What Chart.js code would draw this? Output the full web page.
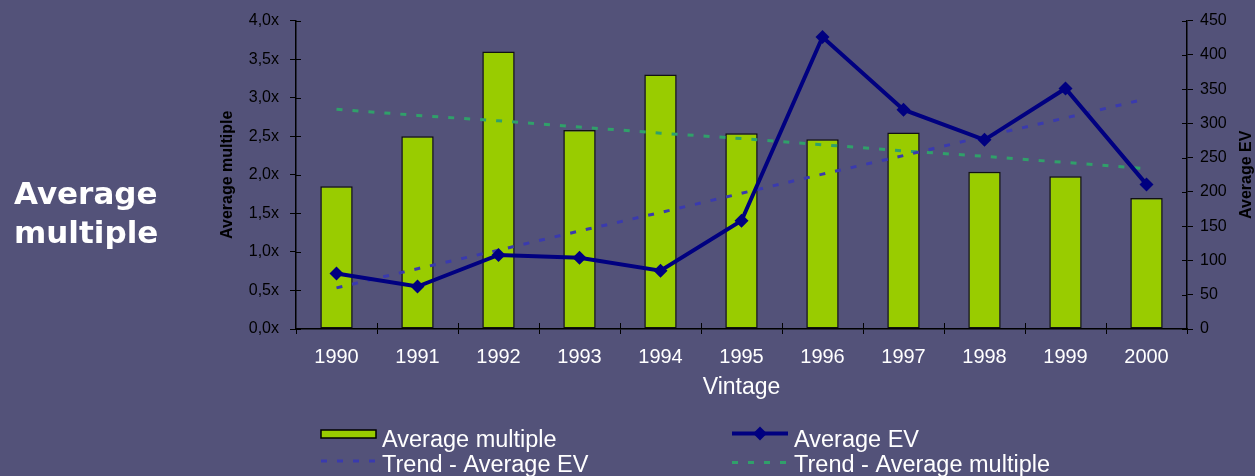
<!DOCTYPE html>
<html>
<head>
<meta charset="utf-8">
<script src="https://cdn.jsdelivr.net/npm/chart.js@4.4.1/dist/chart.umd.min.js"></script>
<style>
  html, body { margin: 0; padding: 0; background: #535279; }
  #wrap { position: relative; width: 1255px; height: 476px; overflow: hidden; }
  #chart { position: absolute; left: 0; top: 0; }
  #side {
    position: absolute; left: 14px; top: 174px;
    font: bold 31px 'DejaVu Sans', Verdana, sans-serif;
    line-height: 39px; color: #fff;
  }
</style>
</head>
<body>
<div id="wrap">
  <canvas id="chart" width="1255" height="476"></canvas>
  <div id="side">Average<br>multiple</div>
</div>
<script>
// values
const vintages = ['1990', '1991', '1992', '1993', '1994', '1995', '1996', '1997', '1998', '1999', '2000'];
const averageMultiple = [1.85, 2.50, 3.60, 2.58, 3.30, 2.54, 2.46, 2.55, 2.04, 1.98, 1.70];
const averageEV = [81, 62, 108, 104, 85, 158, 426, 320, 276, 351, 211];
const trendEV = [60, 88, 115, 143, 170, 198, 226, 253, 281, 308, 336];
const trendMultiple = [2.85, 2.77, 2.70, 2.62, 2.54, 2.47, 2.39, 2.31, 2.24, 2.16, 2.08];

Chart.defaults.font.family = "'Liberation Sans', Arial, sans-serif";

// legend slots: [swatch left, swatch right, swatch y, text x, text baseline]
const legendSlots = [
    [321, 376, 434, 382, 446.5],
    [732, 788, 433.5, 794, 446.5],
    [321, 376, 461, 382, 472],
    [732, 788, 462.5, 794, 472]
];

const extras = {
    id: 'extras',
    afterDraw(chart) {
        const { ctx, chartArea, scales } = chart;
        ctx.save();

        // inner halves of the tick marks
        ctx.strokeStyle = '#000';
        ctx.lineWidth = 1;
        ctx.beginPath();
        scales.y.ticks.forEach(t => {
            const py = Math.round(scales.y.getPixelForValue(t.value)) + 0.5;
            ctx.moveTo(chartArea.left, py);
            ctx.lineTo(chartArea.left + 5, py);
        });
        scales.y1.ticks.forEach(t => {
            const py = Math.round(scales.y1.getPixelForValue(t.value)) + 0.5;
            ctx.moveTo(chartArea.right - 5, py);
            ctx.lineTo(chartArea.right, py);
        });
        for (let i = 1; i < vintages.length; i++) {
            const px = Math.round(scales.x.getPixelForValue(i - 0.5)) + 0.5;
            ctx.moveTo(px, chartArea.bottom - 6);
            ctx.lineTo(px, chartArea.bottom);
        }
        ctx.stroke();

        // right axis title, reading bottom to top
        ctx.fillStyle = '#000';
        ctx.font = "bold 16px 'Liberation Sans', Arial, sans-serif";
        ctx.textAlign = 'center';
        ctx.textBaseline = 'middle';
        ctx.translate(scales.y1.right - 8, (chartArea.top + chartArea.bottom) / 2);
        ctx.rotate(-Math.PI / 2);
        ctx.fillText('Average EV', 0, 0);
        ctx.setTransform(1, 0, 0, 1, 0, 0);

        // legend
        ctx.font = "23.5px 'Liberation Sans', Arial, sans-serif";
        ctx.textAlign = 'left';
        ctx.textBaseline = 'alphabetic';
        chart.data.datasets.forEach((ds, i) => {
            const [x0, x1, sy, tx, ty] = legendSlots[i];
            if (ds.type === 'bar') {
                ctx.fillStyle = ds.backgroundColor;
                ctx.fillRect(x0, sy - 4, x1 - x0, 8);
                ctx.strokeStyle = '#000';
                ctx.lineWidth = 1.5;
                ctx.strokeRect(x0, sy - 4, x1 - x0, 8);
            } else {
                ctx.strokeStyle = ds.borderColor;
                ctx.lineWidth = ds.borderWidth;
                ctx.setLineDash(ds.borderDash || []);
                ctx.beginPath();
                ctx.moveTo(x0, sy);
                ctx.lineTo(x1, sy);
                ctx.stroke();
                ctx.setLineDash([]);
                if (ds.pointRadius > 0) {
                    const cx = (x0 + x1) / 2, r = ds.pointRadius;
                    ctx.fillStyle = ds.borderColor;
                    ctx.beginPath();
                    ctx.moveTo(cx, sy - r);
                    ctx.lineTo(cx + r, sy);
                    ctx.lineTo(cx, sy + r);
                    ctx.lineTo(cx - r, sy);
                    ctx.closePath();
                    ctx.fill();
                }
            }
            ctx.fillStyle = '#fff';
            ctx.fillText(ds.label, tx, ty);
        });
        ctx.restore();
    }
};

const ctx = document.getElementById('chart').getContext('2d');
new Chart(ctx, {
    data: {
        labels: vintages,
        datasets: [
            {
                type: 'bar',
                label: 'Average multiple',
                data: averageMultiple,
                yAxisID: 'y',
                backgroundColor: '#99cc00',
                borderColor: '#111',
                borderWidth: 1.5,
                borderSkipped: false,
                barPercentage: 0.4,
                categoryPercentage: 1.0,
                order: 3
            },
            {
                type: 'line',
                label: 'Average EV',
                data: averageEV,
                yAxisID: 'y1',
                borderColor: '#000080',
                backgroundColor: '#000080',
                borderWidth: 4,
                pointStyle: 'rectRot',
                pointRadius: 7,
                pointBorderWidth: 0,
                pointBackgroundColor: '#000080',
                tension: 0,
                order: 1
            },
            {
                type: 'line',
                label: 'Trend - Average EV',
                data: trendEV,
                yAxisID: 'y1',
                borderColor: '#3a3aae',
                borderWidth: 3,
                borderDash: [6, 10],
                pointRadius: 0,
                order: 2
            },
            {
                type: 'line',
                label: 'Trend - Average multiple',
                data: trendMultiple,
                yAxisID: 'y',
                borderColor: '#30a06a',
                borderWidth: 3,
                borderDash: [6, 10],
                pointRadius: 0,
                order: 2
            }
        ]
    },
    options: {
        responsive: false,
        animation: false,
        layout: {
            padding: { left: 210, right: 0, top: 17, bottom: 70 }
        },
        scales: {
            x: {
                offset: true,
                grid: {
                    offset: true,
                    drawOnChartArea: false,
                    color: '#000',
                    tickLength: 5
                },
                border: { color: '#000', width: 1.5 },
                ticks: {
                    color: '#fff',
                    font: { size: 20 },
                    padding: 11,
                    maxRotation: 0,
                    autoSkip: false
                },
                title: {
                    display: true,
                    text: 'Vintage',
                    color: '#fff',
                    font: { size: 23 },
                    padding: { top: 0, bottom: 5 }
                },
                afterFit: scale => { scale.height = 77; }
            },
            y: {
                position: 'left',
                min: 0,
                max: 4,
                grid: {
                    drawOnChartArea: false,
                    color: '#000',
                    tickLength: 6
                },
                border: { color: '#000', width: 1.5 },
                ticks: {
                    stepSize: 0.5,
                    color: '#000',
                    font: { size: 16 },
                    padding: 11,
                    callback: v => v.toFixed(1).replace('.', ',') + 'x'
                },
                title: {
                    display: true,
                    text: 'Average multiple',
                    color: '#000',
                    font: { size: 16, weight: 'bold' },
                    padding: { top: 8, bottom: 0 }
                },
                afterFit: scale => { scale.width = 86; }
            },
            y1: {
                position: 'right',
                min: 0,
                max: 450,
                grid: {
                    drawOnChartArea: false,
                    color: '#000',
                    tickLength: 6
                },
                border: { color: '#000', width: 1.5 },
                ticks: {
                    stepSize: 50,
                    color: '#000',
                    font: { size: 16 },
                    padding: 7
                },
                afterFit: scale => { scale.width = 68; }
            }
        },
        plugins: {
            legend: { display: false },
            tooltip: { enabled: false }
        }
    },
    plugins: [extras]
});
</script>
</body>
</html>
